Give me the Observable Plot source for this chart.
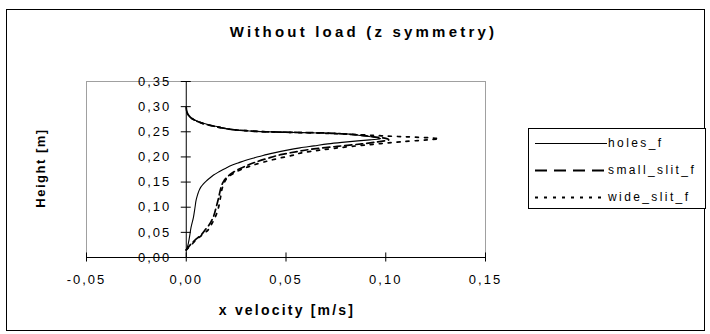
<!DOCTYPE html>
<html>
<head>
<meta charset="utf-8">
<script src="https://cdn.jsdelivr.net/npm/d3@7"></script>
<script src="https://cdn.jsdelivr.net/npm/@observablehq/plot@0.6"></script>
<style>
  html, body { margin: 0; padding: 0; background: #fff; }
  #chart { position: relative; width: 710px; height: 334px; font-family: "Liberation Sans", Arial, sans-serif; color: #000; }
  #frame { position: absolute; left: 6px; top: 9px; width: 699px; height: 322px; border: 1px solid #000; box-sizing: border-box; }
  #plot { position: absolute; left: 0; top: 0; }
  .t { position: absolute; white-space: nowrap; font-weight: bold; }
  #title { left: 0; width: 727px; text-align: center; top: 23px; font-size: 15px; letter-spacing: 3.2px; }
  #xlabel { left: 150px; width: 274px; text-align: center; top: 302px; font-size: 14px; letter-spacing: 2.2px; }
  #ylabel { left: 40px; top: 168px; font-size: 13px; letter-spacing: 1.5px; transform: translate(-50%, -50%) rotate(-90deg); }
  #legend { position: absolute; left: 528px; top: 128px; width: 178px; height: 81px; border: 1px solid #000; box-sizing: border-box; background: #fff; }
  .row { position: absolute; left: 6px; height: 16px; display: flex; align-items: center; font-size: 12px; letter-spacing: 2.4px; }
  .row svg { margin-right: 1px; }
</style>
</head>
<body>
<div id="chart">
  <div id="frame"></div>
  <div id="plot"></div>
  <div class="t" id="title">Without load (z symmetry)</div>
  <div class="t" id="xlabel">x velocity [m/s]</div>
  <div class="t" id="ylabel">Height [m]</div>
  <div id="legend"></div>
</div>
<script>
// ---- data (x velocity [m/s], height [m]) ----
const seriesNames = ["holes_f", "small_slit_f", "wide_slit_f"];

const holesY = [0.015,0.02,0.04,0.06,0.08,0.10,0.115,0.125,0.133,0.140,0.146,0.152,0.158,0.164,0.170,0.175,0.179,0.183,0.188,0.193,0.198,0.203,0.208,0.213,0.218,0.222,0.226,0.229,0.232,0.234,0.236,0.238,0.240,0.242,0.245,0.247,0.248,0.249,0.250,0.251,0.253,0.256,0.259,0.263,0.267,0.272,0.276,0.282,0.288,0.295,0.300];
const holesX = [0,0.0005,0.0016,0.0024,0.0036,0.0044,0.005,0.0057,0.0064,0.0073,0.0085,0.0100,0.0118,0.0137,0.0162,0.0185,0.0205,0.0225,0.026,0.0295,0.034,0.0385,0.044,0.050,0.057,0.064,0.071,0.078,0.086,0.092,0.0975,0.096,0.0925,0.088,0.083,0.074,0.062,0.050,0.040,0.0338,0.0255,0.020,0.0171,0.012,0.0087,0.005,0.0028,0.0012,0.0003,0.0001,0];

const smallY = [0.015,0.025,0.035,0.045,0.055,0.065,0.08,0.10,0.12,0.14,0.15,0.16,0.168,0.175,0.183,0.190,0.197,0.205,0.211,0.216,0.221,0.226,0.230,0.234,0.237,0.240,0.243,0.246,0.248,0.249,0.250,0.252,0.254,0.257,0.261,0.265,0.270,0.276,0.283,0.290,0.298];
const smallX = [0,0.002,0.0045,0.0075,0.0095,0.0115,0.0135,0.0150,0.0163,0.0175,0.0185,0.0205,0.023,0.026,0.0305,0.035,0.0406,0.048,0.056,0.064,0.0757,0.088,0.096,0.1015,0.100,0.094,0.088,0.078,0.066,0.052,0.040,0.031,0.024,0.019,0.014,0.0095,0.006,0.003,0.0012,0.0003,0];

const wideY = [0.015,0.025,0.035,0.045,0.055,0.065,0.08,0.10,0.12,0.14,0.15,0.16,0.168,0.175,0.183,0.190,0.197,0.203,0.209,0.213,0.217,0.221,0.224,0.227,0.230,0.234,0.236,0.238,0.240,0.242,0.244,0.246,0.248,0.249,0.250,0.252,0.254,0.257,0.261,0.265,0.270,0.276,0.283,0.290,0.298];
const wideX = [0,0.0025,0.005,0.008,0.011,0.0125,0.0145,0.0162,0.0172,0.0182,0.0192,0.021,0.024,0.0275,0.033,0.039,0.046,0.053,0.0589,0.066,0.0739,0.083,0.0907,0.099,0.1075,0.121,0.1268,0.122,0.110,0.098,0.088,0.076,0.062,0.050,0.040,0.031,0.024,0.019,0.014,0.0095,0.006,0.003,0.0012,0.0003,0];

const xTicks = [-0.05, 0, 0.05, 0.10, 0.15];
const xTickLabels = ["-0,05", "0,00", "0,05", "0,10", "0,15"];
const yTicks = [0, 0.05, 0.10, 0.15, 0.20, 0.25, 0.30, 0.35];
const yTickLabels = ["0,00", "0,05", "0,10", "0,15", "0,20", "0,25", "0,30", "0,35"];

// ---- build ----
const zip = (xs, ys) => xs.map((x, i) => ({x, y: ys[i]}));
const holes = zip(holesX, holesY);
const small = zip(smallX, smallY);
const wide = zip(wideX, wideY);

const styles = [
  {stroke: "#000", strokeWidth: 1.1, dash: null, legendDash: null},
  {stroke: "#000", strokeWidth: 1.7, dash: "7,4", legendDash: "12,7"},
  {stroke: "#000", strokeWidth: 1.7, dash: "3,6", legendDash: "3,6"}
];

const xTickData = xTicks.map((v, i) => ({v, label: xTickLabels[i]}));
const yTickData = yTicks.map((v, i) => ({v, label: yTickLabels[i]}));

const fontFamily = '"Liberation Sans", Arial, sans-serif';

const chart = Plot.plot({
  width: 710,
  height: 334,
  marginLeft: 86,
  marginRight: 225,
  marginTop: 81,
  marginBottom: 77,
  style: {background: "transparent", fontFamily, overflow: "visible"},
  x: {domain: [-0.05, 0.15], axis: null},
  y: {domain: [0, 0.35], axis: null},
  marks: [
    Plot.frame({stroke: "#a0a0a0", strokeWidth: 1}),
    Plot.line(wide, {x: "x", y: "y", stroke: styles[2].stroke, strokeWidth: styles[2].strokeWidth, strokeDasharray: styles[2].dash, curve: "monotone-y"}),
    Plot.line(small, {x: "x", y: "y", stroke: styles[1].stroke, strokeWidth: styles[1].strokeWidth, strokeDasharray: styles[1].dash, curve: "monotone-y"}),
    Plot.line(holes, {x: "x", y: "y", stroke: styles[0].stroke, strokeWidth: styles[0].strokeWidth, curve: "monotone-y"}),
    Plot.ruleY([0], {stroke: "#000", strokeWidth: 1}),
    Plot.ruleX([0], {stroke: "#000", strokeWidth: 1}),
    Plot.ruleX(xTickData, {x: "v", y1: -0.009, y2: 0.009, stroke: "#000"}),
    Plot.ruleY(yTickData, {y: "v", x1: -0.0025, x2: 0.0025, stroke: "#000"}),
    Plot.text(xTickData, {x: "v", y: 0, text: "label", dy: 22, fontSize: 13, fill: "#000", textAnchor: "middle"}),
    Plot.text(yTickData, {x: 0, y: "v", text: "label", dx: -15, fontSize: 13, fill: "#000", textAnchor: "end"})
  ]
});
d3.select(chart).selectAll("text").attr("letter-spacing", "2px");
document.getElementById("plot").appendChild(chart);

// ---- legend ----
const legend = document.getElementById("legend");
const rowTops = [6, 33, 60];
seriesNames.forEach((name, i) => {
  const row = document.createElement("div");
  row.className = "row";
  row.style.top = rowTops[i] + "px";
  const s = d3.create("svg").attr("width", 72).attr("height", 16);
  s.append("line").attr("x1", 0).attr("x2", 72).attr("y1", 8.5).attr("y2", 8.5)
    .attr("stroke", "#000").attr("stroke-width", i === 0 ? 1.2 : 2)
    .attr("stroke-dasharray", styles[i].legendDash);
  row.appendChild(s.node());
  const span = document.createElement("span");
  span.textContent = name;
  row.appendChild(span);
  legend.appendChild(row);
});
</script>
</body>
</html>
